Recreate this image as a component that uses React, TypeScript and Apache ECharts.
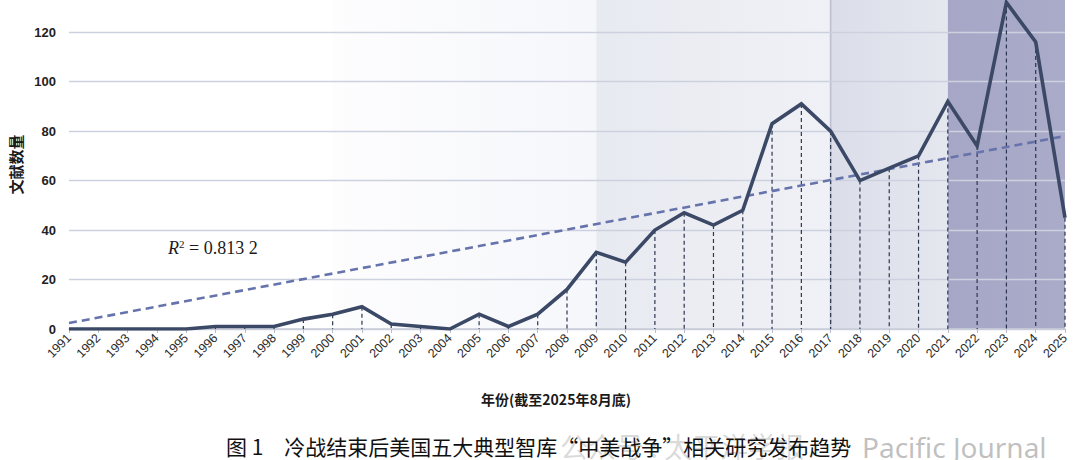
import React, { useEffect, useRef } from "react";
import * as echarts from "echarts";

const years = [
  "1991", "1992", "1993", "1994", "1995", "1996", "1997", "1998", "1999", "2000",
  "2001", "2002", "2003", "2004", "2005", "2006", "2007", "2008", "2009", "2010",
  "2011", "2012", "2013", "2014", "2015", "2016", "2017", "2018", "2019", "2020",
  "2021", "2022", "2023", "2024", "2025",
];
const counts = [
  0, 0, 0, 0, 0, 1, 1, 1, 4, 6,
  9, 2, 1, 0, 6, 1, 6, 16, 31, 27,
  40, 47, 42, 48, 83, 91, 80, 60, 65, 70,
  92, 74, 132, 116, 45,
];
const trendYears = ["1991", "2025"];
const trendValues = [2.4, 78];
const regionStarts = ["2000", "2009", "2017", "2021"];
const regionEnds = ["2009", "2017", "2021", "2025"];
const yTicks = [0, 20, 40, 60, 80, 100, 120];

const yAxisName = "文献数量";
const xAxisName = "年份(截至2025年8月底)";
const caption = "图 1\u3000冷战结束后美国五大典型智库“中美战争”相关研究发布趋势";
const r2Text = "0.813 2";

const regionFills = [
  ["#fdfdfe", "#f6f7fb"],
  ["#e8eaf1", "#eff1f6"],
  ["#dbdee9", "#e5e7ef"],
  ["#a6a7c6", "#a9abc9"],
];

export default function App() {
  const ref = useRef<HTMLDivElement>(null);
  useEffect(() => {
    if (!ref.current) return;
    const chart = echarts.init(ref.current, null, { renderer: "svg" });
    const regionData = regionStarts.map((s, i) => [years.indexOf(s), years.indexOf(regionEnds[i]), i]);
    const dropData = counts.map((v, i) => [i, v]);
    chart.setOption({
      animation: false,
      backgroundColor: "#ffffff",
      grid: { left: 67, right: 15, top: 0, bottom: 131, containLabel: false },
      xAxis: {
        type: "category",
        data: years,
        boundaryGap: false,
        z: 3,
        axisLine: { show: true, lineStyle: { color: "#c9ccd8", width: 1.5 } },
        axisTick: { show: true, alignWithLabel: true, length: 4, lineStyle: { color: "#b8bccb" } },
        axisLabel: {
          rotate: 45,
          fontSize: 12.5,
          color: "#2a2a2a",
          fontFamily: "Liberation Sans",
          margin: 7,
          interval: 0,
        },
        name: xAxisName,
        nameLocation: "middle",
        nameGap: 63,
        nameTextStyle: { fontSize: 14, fontWeight: "bold", color: "#1a1a1a", fontFamily: "Noto Sans CJK SC", padding: [0, 22, 0, 0] },
        splitLine: { show: false },
      },
      yAxis: {
        type: "value",
        min: 0,
        max: 133,
        interval: 20,
        z: 3,
        axisLine: { show: false },
        axisTick: { show: false },
        axisLabel: {
          fontSize: 13,
          fontWeight: "bold",
          color: "#222",
          fontFamily: "Liberation Sans",
          margin: 13,
          showMaxLabel: false,
          formatter: (v: number) => (yTicks.indexOf(v) >= 0 ? String(v) : ""),
        },
        splitLine: { show: true, showMaxLine: false, lineStyle: { color: "#cdd1df", width: 1.3 } },
        name: yAxisName,
        nameLocation: "middle",
        nameRotate: 90,
        nameGap: 46,
        nameTextStyle: { fontSize: 15, fontWeight: "bold", color: "#1a1a1a", fontFamily: "Noto Sans CJK SC" },
      },
      series: [
        {
          type: "custom",
          z: 1,
          silent: true,
          data: regionData,
          renderItem: (params: any, api: any) => {
            const s = api.value(0);
            const e = api.value(1);
            const idx = api.value(2);
            const cs = params.coordSys;
            const x1 = api.coord([s, 0])[0];
            const x2 = api.coord([e, 0])[0];
            const fill = regionFills[idx];
            const children: any[] = [
              {
                type: "rect",
                shape: { x: x1, y: cs.y, width: x2 - x1, height: cs.height },
                style: {
                  fill: new echarts.graphic.LinearGradient(0, 0, 1, 0, [
                    { offset: 0, color: fill[0] },
                    { offset: 1, color: fill[1] },
                  ]),
                },
              },
            ];
            if (idx === 2) {
              children.push({
                type: "line",
                shape: { x1: x1, y1: cs.y, x2: x1, y2: cs.y + cs.height },
                style: { stroke: "#bfc2d3", lineWidth: 1.8 },
              });
            }
            return { type: "group", children };
          },
        },
        {
          type: "custom",
          z: 5,
          silent: true,
          data: dropData,
          renderItem: (params: any, api: any) => {
            const p = api.coord([api.value(0), api.value(1)]);
            const b = api.coord([api.value(0), 0]);
            return {
              type: "line",
              shape: { x1: p[0], y1: p[1], x2: b[0], y2: b[1] },
              style: { stroke: "#2c3650", lineWidth: 1.2, lineDash: [4, 3] },
            };
          },
        },
        {
          type: "line",
          z: 6,
          data: trendYears.map((y, i) => [y, trendValues[i]]),
          showSymbol: false,
          lineStyle: { color: "#6674ab", width: 2.6, type: [8, 5] },
          silent: true,
        },
        {
          type: "line",
          z: 8,
          data: counts,
          showSymbol: false,
          lineStyle: { color: "#3b4966", width: 3.6, join: "miter" },
          silent: true,
        },
      ],
      graphic: [
        {
          type: "text",
          left: 560,
          top: 432,
          z: 1,
          style: {
            text: "公众号 : 太平洋学报",
            fontSize: 28,
            fontFamily: "Noto Sans CJK SC",
            fill: "rgba(150,150,150,0.35)",
          },
        },
        {
          type: "text",
          left: 862,
          top: 433,
          z: 1,
          style: {
            text: "Pacific Journal",
            fontSize: 28,
            fontFamily: "Noto Sans",
            fill: "rgba(150,150,150,0.6)",
          },
        },
        {
          type: "text",
          left: 226,
          top: 435,
          z: 10,
          style: {
            text: caption,
            fontSize: 21,
            fontFamily: "Noto Sans CJK SC",
            fill: "#111",
          },
        },
        {
          type: "text",
          left: 168,
          top: 238,
          z: 10,
          style: {
            text: "{r|R}{s|2}{n| = " + r2Text + "}",
            rich: {
              r: { fontSize: 18, fontStyle: "italic", fontFamily: "Liberation Serif", fill: "#1a1a1a" },
              s: { fontSize: 11, fontFamily: "Liberation Serif", fill: "#1a1a1a", verticalAlign: "top", padding: [0, 0, 8, 0] },
              n: { fontSize: 18, fontFamily: "Liberation Serif", fill: "#1a1a1a" },
            },
          },
        },
      ],
    });
    return () => chart.dispose();
  }, []);
  return (
    <div
      ref={ref}
      style={{ position: "fixed", left: 0, top: 0, width: 1080, height: 460, background: "#fff" }}
    />
  );
}
